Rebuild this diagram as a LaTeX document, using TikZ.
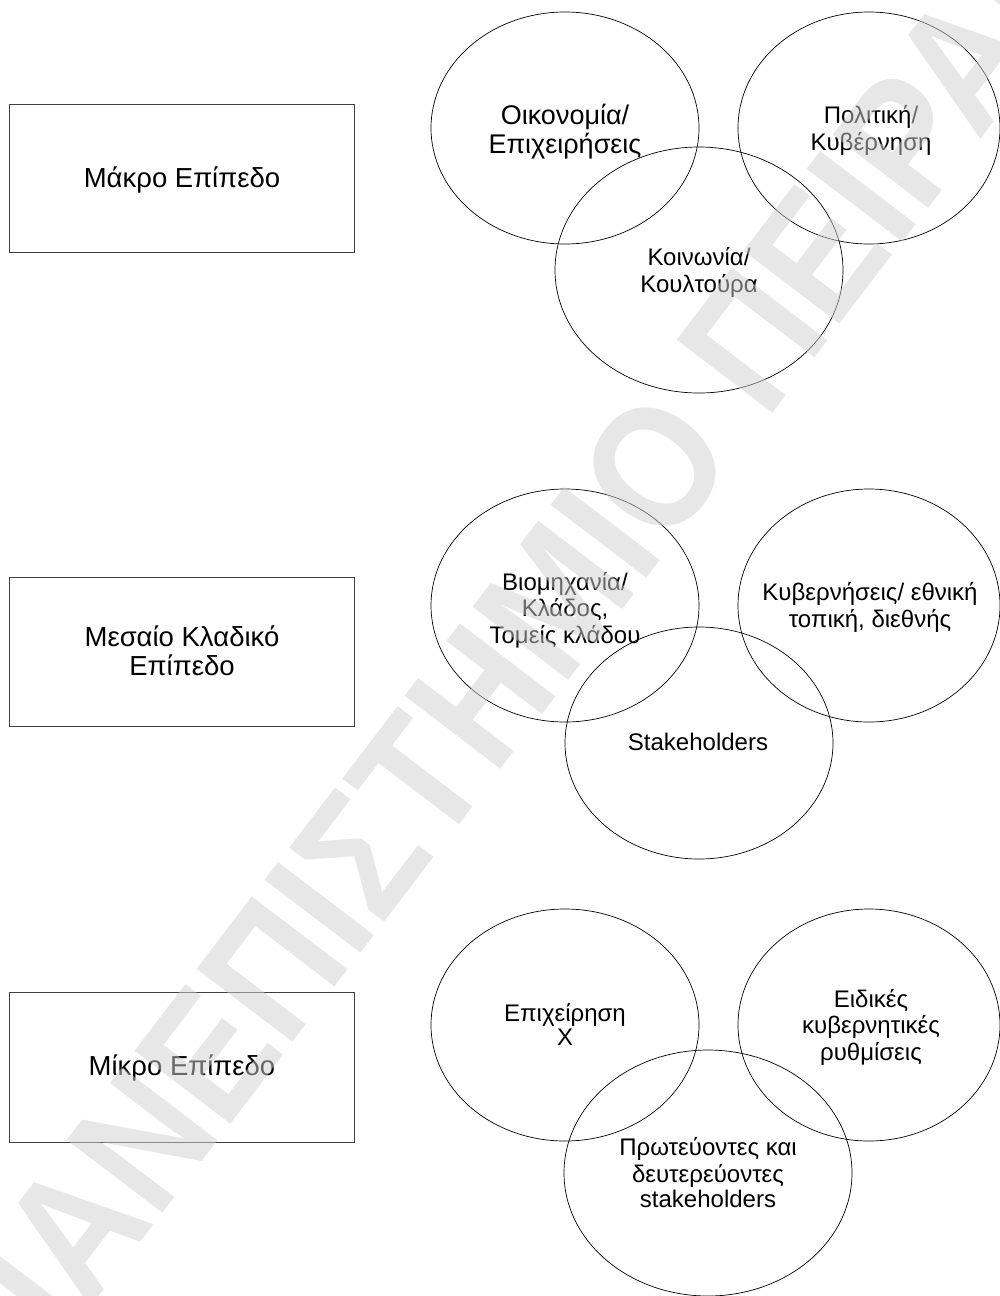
\documentclass[tikz,border=0pt]{standalone}
\usepackage{fontspec}
\setmainfont{Liberation Sans}
\newfontfamily\wmfont{Liberation Sans}
\usetikzlibrary{shapes.geometric}
\begin{document}
\begin{tikzpicture}[x=1pt,y=-1pt,
  lvlbox/.style={draw=black!75, line width=0.9pt, minimum width=345pt, inner sep=0pt},
  venn/.style={draw=black, line width=0.7pt, ellipse, inner sep=0pt},
  lab/.style={align=center, inner sep=0pt},
  fs/.style={font=\fontsize{#1}{25}\selectfont},
]
\useasboundingbox[fill=white] (0,0) rectangle (1000,1296);

% level boxes
\node[lvlbox, minimum height=148pt] (macro) at (181.5,178) {};
\node[lvlbox, minimum height=149pt] (meso) at (181.5,651.5) {};
\node[lvlbox, minimum height=150pt] (micro) at (181.5,1067) {};
\node[lab, font=\fontsize{27.5}{24}\selectfont] (tmacro) at (182,181) {\strut Μάκρο Επίπεδο};
\node[lab, font=\fontsize{27.5}{24}\selectfont] (tmeso) at (182,654) {\strut Μεσαίο Κλαδικό\\\strut Επίπεδο};
\node[lab, font=\fontsize{27.5}{24}\selectfont] (tmicro) at (182,1069) {\strut Μίκρο Επίπεδο};

% macro circles
\node[venn, minimum width=268pt, minimum height=232pt] (oik) at (565,128) {};
\node[venn, minimum width=262pt, minimum height=232pt] (pol) at (869,128) {};
\node[venn, minimum width=288pt, minimum height=246pt] (koi) at (699,270) {};
% meso circles
\node[venn, minimum width=268pt, minimum height=233pt] (bio) at (565,605.5) {};
\node[venn, minimum width=262pt, minimum height=233pt] (kyb) at (869,605.5) {};
\node[venn, minimum width=268pt, minimum height=232pt] (stk) at (699,743) {};
% micro circles
\node[venn, minimum width=268pt, minimum height=232pt] (epi) at (565,1025) {};
\node[venn, minimum width=262pt, minimum height=232pt] (eid) at (869,1025) {};
\node[venn, minimum width=288pt, minimum height=246pt] (prw) at (708,1173) {};

% labels
\node[lab, font=\fontsize{27}{28}\selectfont] (toik) at (565,133) {\strut Οικονομία/\\\strut Επιχειρήσεις};
\node[lab, font=\fontsize{24}{27}\selectfont] (tpol) at (871,132) {\strut Πολιτική/\\\strut Κυβέρνηση};
\node[lab, fs=24] (tkoi) at (699,273.5) {\strut Κοινωνία/\\\strut Κουλτούρα};
\node[lab, font=\fontsize{24}{24}\selectfont] (tbio) at (565,611.5) {\strut Βιομηχανία/\\\strut Κλάδος,\\\strut Τομείς κλάδου};
\node[lab, fs=24] (tkyb) at (870,608.5) {\strut Κυβερνήσεις/ εθνική\\\strut τοπική, διεθνής};
\node[lab, fs=24] (tstk) at (698,745) {\strut Stakeholders};
\node[lab, font=\fontsize{24}{24}\selectfont] (tepi) at (565,1028) {\strut Επιχείρηση\\\strut X};
\node[lab, fs=24] (teid) at (871,1028.5) {\strut Ειδικές\\\strut κυβερνητικές\\\strut ρυθμίσεις};
\node[lab, fs=24] (tprw) at (708,1176) {\strut Πρωτεύοντες και\\\strut δευτερεύοντες\\\strut stakeholders};

% watermark
\node[anchor=base west, rotate=52.7, xscale=0.886, inner sep=0pt, text=black!18, text opacity=0.5,
  font=\wmfont\bfseries\fontsize{175}{175}\selectfont] (wm) at (20.7,1400) {ΠΑΝΕΠΙΣΤΗΜΙΟ ΠΕΙΡΑΙΩΣ};
\end{tikzpicture}
\end{document}
